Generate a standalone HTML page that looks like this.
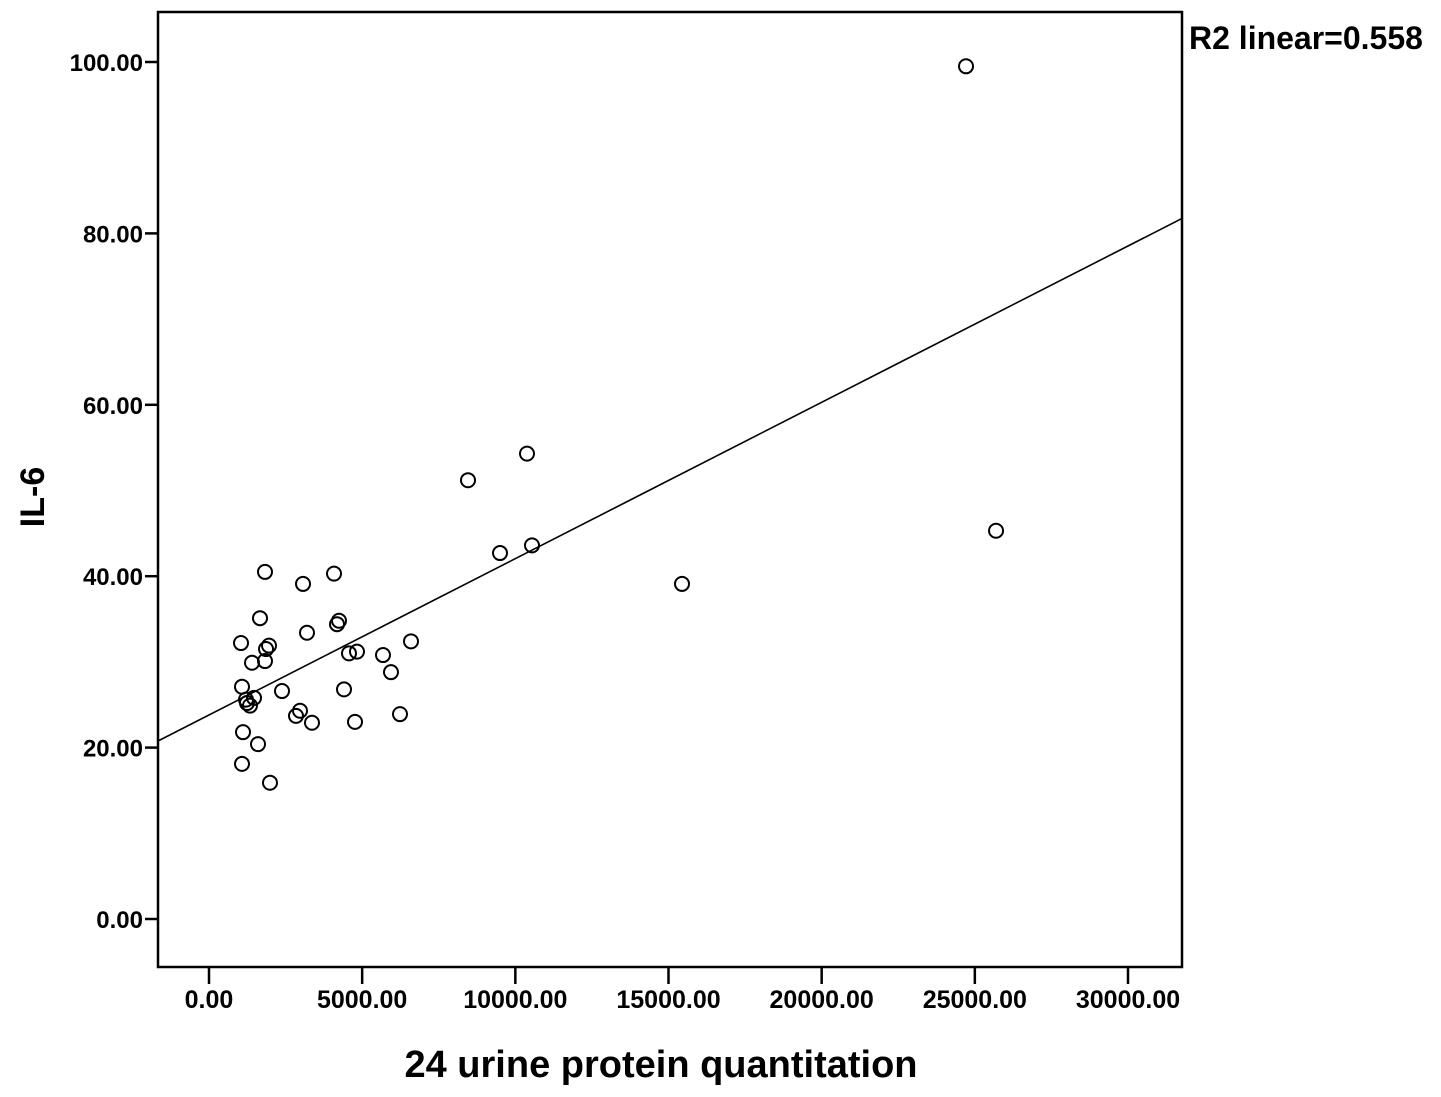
<!DOCTYPE html>
<html><head><meta charset="utf-8"><style>
body{margin:0;background:#fff;}
svg{display:block;font-family:"Liberation Sans",Arial,sans-serif;font-weight:bold;}
</style></head><body>
<svg id="chart" width="1441" height="1097" viewBox="0 0 1441 1097">
<rect x="158" y="12" width="1024" height="955" fill="#fff" stroke="#000" stroke-width="2.5"/>
<g id="ticks"></g>
<g id="points"></g>
<text x="1189" y="49" font-size="32">R2 linear=0.558</text>
<text x="661" y="1077" font-size="38" text-anchor="middle">24 urine protein quantitation</text>
<text transform="translate(44,497) rotate(-90)" font-size="34" text-anchor="middle">IL-6</text>
</svg>
<script>
const xTicks=[0,5000,10000,15000,20000,25000,30000];
const yTicks=[0,20,40,60,80,100];
const xVals=[24712,25692,15441,10381,8455,9500,10544,1828,4081,3069,1045,1665,4244,4179,1959,1861,1404,1828,3199,5680,6594,4570,4831,5941,1077,2383,4407,1240,1469,2971,2840,3362,4766,6235,1110,1600,1077,1991,1338,1208];
const yVals=[99.5,45.3,39.1,54.3,51.2,42.7,43.6,40.5,40.3,39.1,32.2,35.1,34.8,34.4,31.9,31.5,29.9,30.1,33.4,30.8,32.4,31.0,31.2,28.8,27.1,26.6,26.8,25.2,25.8,24.3,23.7,22.9,23.0,23.9,21.8,20.4,18.1,15.9,24.9,25.6];
const fitSlope=0.001824, fitIntercept=23.81;
const X=v=>209+v*(1128-209)/30000;
const Y=v=>919-v*(919-62)/100;
const NS="http://www.w3.org/2000/svg";
function mk(tag,attrs,parent){const e=document.createElementNS(NS,tag);for(const k in attrs)e.setAttribute(k,attrs[k]);parent.appendChild(e);return e;}
const tg=document.getElementById('ticks');
xTicks.forEach(t=>{
 const l=mk('line',{x1:X(t),x2:X(t),y1:967,y2:984,stroke:'#000','stroke-width':2.5},tg);
 
 
 const s=mk('text',{x:X(t),y:1008,'font-size':25,'text-anchor':'middle'},tg);
 s.textContent=t.toFixed(2);
 
 
});
yTicks.forEach(t=>{
 const l=mk('line',{x1:145,x2:158,y1:Y(t),y2:Y(t),stroke:'#000','stroke-width':2.5},tg);
 
 
 const s=mk('text',{x:143,y:Y(t)+9,'font-size':24,'text-anchor':'end'},tg);
 s.textContent=t.toFixed(2);
 
 
});
const pg=document.getElementById('points');
const x0=-1665,x1=31796;
const fl=mk('line',{x1:X(x0),y1:Y(fitIntercept+fitSlope*x0),x2:X(x1),y2:Y(fitIntercept+fitSlope*x1),stroke:'#000','stroke-width':1.6},pg);


xVals.forEach((v,i)=>{
 const c=mk('circle',{cx:X(v),cy:Y(yVals[i]),r:7,fill:'none',stroke:'#000','stroke-width':2},pg);
 
 
});
</script>
</body></html>
